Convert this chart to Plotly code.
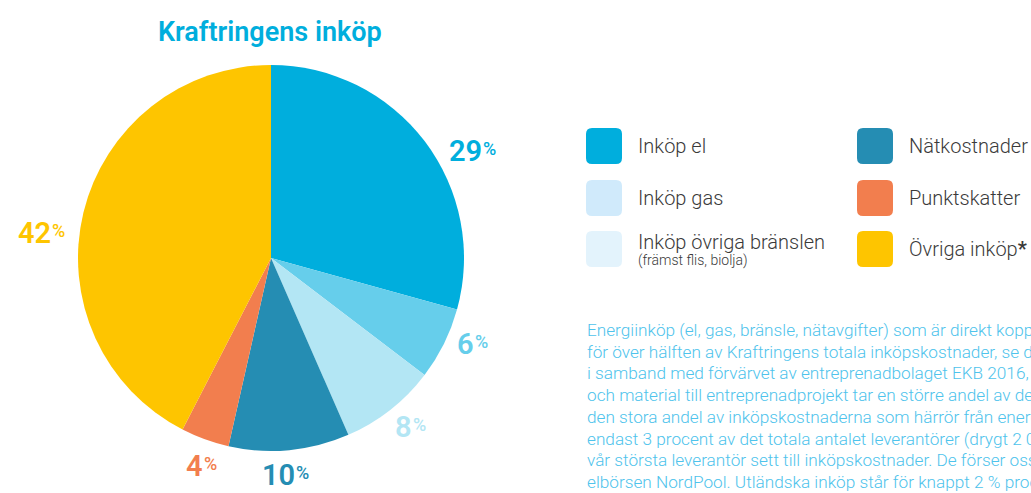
import plotly.graph_objects as go

# ---- data ----
categories = ["Inköp el", "Inköp gas", "Inköp övriga bränslen", "Nätkostnader", "Punktskatter", "Övriga inköp*"]
values = [29, 6, 8, 10, 4, 42]
slice_colors = ["#00AEDD", "#66CEEB", "#B3E6F4", "#258DB3", "#F27E4E", "#FEC500"]
legend_colors = ["#00AEDD", "#D0EAFB", "#E3F3FC", "#258DB3", "#F27E4E", "#FEC500"]
legend_sub = ["", "", "(främst flis, biolja)", "", "", ""]
title = "Kraftringens inköp"
body_lines = [
    "Energiinköp (el, gas, bränsle, nätavgifter) som är direkt kopplade till vår kärnverksamhet",
    "för över hälften av Kraftringens totala inköpskostnader, se diagram. Sedan",
    "i samband med förvärvet av entreprenadbolaget EKB 2016, har inköp av tjänster",
    "och material till entreprenadprojekt tar en större andel av de totala kostnaderna",
    "den stora andel av inköpskostnaderna som härrör från energi kommer från",
    "endast 3 procent av det totala antalet leverantörer (drygt 2 000 st)",
    "vår största leverantör sett till inköpskostnader. De förser oss med el via",
    "elbörsen NordPool. Utländska inköp står för knappt 2 % procent",
]

# ---- layout constants (pixels) ----
W, H = 1031, 493
cx, cy, R = 271, 258, 193
# (junction between number and % sign, vertical centre of number)
label_pos = [(483, 151), (475, 344), (413, 427), (296, 475), (204, 466), (52, 233)]
FONT = "Roboto, 'Open Sans', sans-serif"

fig = go.Figure()
fig.add_trace(go.Pie(
    labels=categories, values=values, sort=False, direction="clockwise", rotation=0,
    marker=dict(colors=slice_colors, line=dict(width=0)),
    textinfo="none", hoverinfo="label+value", showlegend=False,
    domain=dict(x=[(cx - R) / W, (cx + R) / W], y=[(H - cy - R) / H, (H - cy + R) / H]),
))

# invisible pixel-space axes for annotations/shapes
fig.add_trace(go.Scatter(x=[0, W], y=[0, H], mode="markers", marker=dict(opacity=0), hoverinfo="skip", showlegend=False))

annotations = []
shapes = []

annotations.append(dict(x=cx - 1, y=32, text=title, showarrow=False, xanchor="center", yanchor="middle",
                        font=dict(family=FONT, size=27, color="#00AEDD", weight=600)))

for v, c, (lx, ly) in zip(values, slice_colors, label_pos):
    annotations.append(dict(x=lx + 1, y=ly, text=f"{v}", showarrow=False, xanchor="right", yanchor="middle",
                            font=dict(family=FONT, size=29, color=c, weight=600)))
    annotations.append(dict(x=lx - 2, y=ly - 3, text="%", showarrow=False, xanchor="left", yanchor="middle",
                            font=dict(family=FONT, size=18, color=c, weight=500)))

def rrect(x0, y0, x1, y1, r):
    return (f"M{x0+r},{y0} L{x1-r},{y0} Q{x1},{y0} {x1},{y0+r} L{x1},{y1-r} Q{x1},{y1} {x1-r},{y1} "
            f"L{x0+r},{y1} Q{x0},{y1} {x0},{y1-r} L{x0},{y0+r} Q{x0},{y0} {x0+r},{y0} Z")

col_x = [586, 857]
row_y = [128, 180, 231]
for i, (name, col, sub) in enumerate(zip(categories, legend_colors, legend_sub)):
    x0 = col_x[i // 3]
    y0 = row_y[i % 3]
    shapes.append(dict(type="path", xref="x", yref="y", path=rrect(x0, y0, x0 + 36, y0 + 36, 6),
                       fillcolor=col, line=dict(width=0)))
    ty = y0 + 18 if not sub else y0 + 11
    label = name.replace("*", "<b>*</b>")
    annotations.append(dict(x=x0 + 50, y=ty, text=label, showarrow=False, xanchor="left", yanchor="middle",
                            font=dict(family=FONT, size=20, color="#3a3a3a", weight=300)))
    if sub:
        annotations.append(dict(x=x0 + 50, y=y0 + 29, text=sub, showarrow=False, xanchor="left", yanchor="middle",
                                font=dict(family=FONT, size=14, color="#3a3a3a", weight=300)))

for i, line in enumerate(body_lines):
    annotations.append(dict(x=585, y=330 + i * 21.7, text=line, showarrow=False, xanchor="left", yanchor="middle",
                            font=dict(family=FONT, size=17.2, color="#4EC3EC", weight=300)))

fig.update_layout(
    width=W, height=H, margin=dict(l=0, r=0, t=0, b=0),
    paper_bgcolor="white", plot_bgcolor="white",
    xaxis=dict(range=[0, W], visible=False, domain=[0, 1], fixedrange=True),
    yaxis=dict(range=[H, 0], visible=False, domain=[0, 1], fixedrange=True),
    annotations=annotations, shapes=shapes,
)
fig.write_html("out.html", config={"displayModeBar": False},
               post_script="document.body.style.margin='0';document.body.style.overflow='hidden';")
